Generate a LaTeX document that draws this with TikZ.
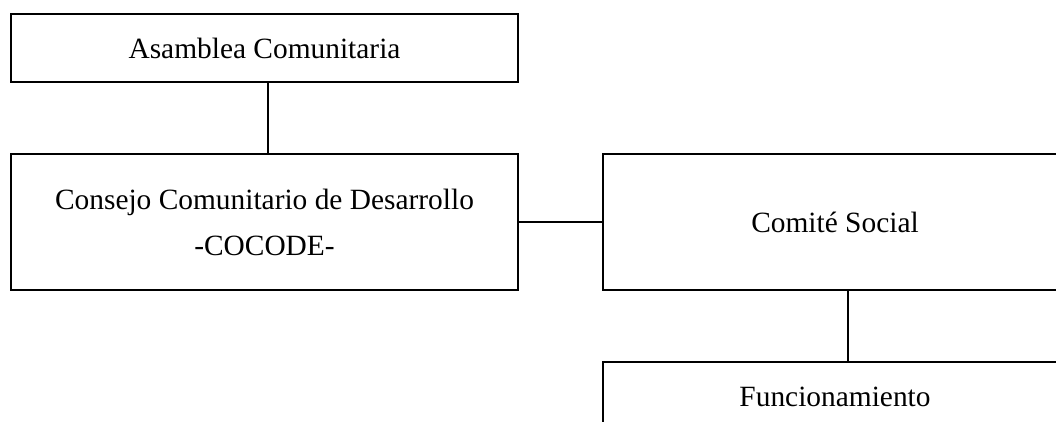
\documentclass[tikz,border=0pt]{standalone}
\usepackage{fontspec}
\setmainfont{Liberation Serif}
\usetikzlibrary{positioning}
\tikzset{
  orgbox/.style  = { draw, rectangle, line width=2pt, inner sep=0pt, align=center,
    minimum height=68pt, font=\fontsize{29.4pt}{46pt}\selectfont },
  tallbox/.style = { orgbox, minimum height=136pt },
  link/.style    = { line width=1.5pt }
}
\begin{document}
\begin{tikzpicture}[x=1pt,y=1pt,node distance=70pt]
    \useasboundingbox (0,0) rectangle (1056,421);
    \node[orgbox, minimum width=507pt] (asamblea) at (264.5,373) {Asamblea Comunitaria};
    \node[tallbox, minimum width=507pt, below=of asamblea] (cocode) {Consejo Comunitario de Desarrollo\\-COCODE-};
    \node[tallbox, minimum width=464pt, right=83pt of cocode] (social) {Comité Social};
    \node[orgbox, minimum width=464pt, minimum height=70pt, below=of social] (funcion) {Funcionamiento};
    \draw[link] ([xshift=3.5pt]asamblea.south) -- ([xshift=3.5pt]cocode.north);
    \draw[link] (cocode) -- (social);
    \draw[link] ([xshift=13pt]social.south) -- ([xshift=13pt]funcion.north);
  \end{tikzpicture}
\end{document}
